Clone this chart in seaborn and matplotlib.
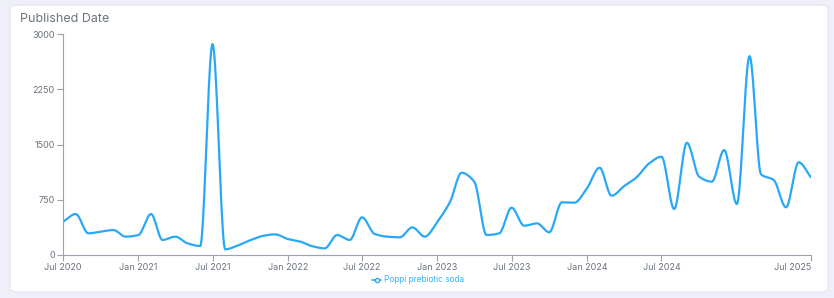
import numpy as np
import pandas as pd
import matplotlib
matplotlib.use("Agg")
import matplotlib.pyplot as plt
import seaborn as sns
from matplotlib.patches import FancyBboxPatch
from matplotlib.lines import Line2D
import matplotlib.dates as mdates

# ---- data (monthly, Jul 2020 .. Jul 2025) ----
start_month = "2020-07-01"
n_months = 61
values = [452, 556, 294, 317, 339, 249, 271, 556, 204, 249, 158, 122,
          2863, 77, 130, 200, 260, 280, 217, 181, 120, 90, 271, 204,
          511, 285, 249, 240, 375, 249, 452, 724, 1117, 995, 271, 294,
          642, 398, 430, 308, 715, 710, 905, 1185, 805, 936, 1054, 1244,
          1334, 624, 1524, 1063, 995, 1425, 692, 2700, 1095, 1018, 647, 1258,
          1054]
series_name = "Poppi prebiotic soda"
title = "Published Date"
y_ticks = [0, 750, 1500, 2250, 3000]
x_tick_dates = ["2020-07-01", "2021-01-01", "2021-07-01", "2022-01-01", "2022-07-01",
                "2023-01-01", "2023-07-01", "2024-01-01", "2024-07-01", "2025-07-01"]
x_tick_labels = ["Jul 2020", "Jan 2021", "Jul 2021", "Jan 2022", "Jul 2022",
                 "Jan 2023", "Jul 2023", "Jan 2024", "Jul 2024", "Jul 2025"]

dates = pd.date_range(start_month, periods=n_months, freq="MS")


def monotone_curve(x, y, per=20):
    """Monotone cubic (Fritsch-Carlson) rendering of the line, like d3.curveMonotoneX."""
    x = np.asarray(x, float); y = np.asarray(y, float)
    h = np.diff(x); d = np.diff(y) / h
    m = np.zeros_like(y)
    m[0] = d[0]; m[-1] = d[-1]
    for i in range(1, len(y) - 1):
        if d[i - 1] * d[i] <= 0:
            m[i] = 0
        else:
            w1 = 2 * h[i] + h[i - 1]; w2 = h[i] + 2 * h[i - 1]
            m[i] = (w1 + w2) / (w1 / d[i - 1] + w2 / d[i])
    xs, ys = [], []
    for i in range(len(x) - 1):
        t = np.linspace(0, 1, per, endpoint=False)
        h00 = 2 * t**3 - 3 * t**2 + 1; h10 = t**3 - 2 * t**2 + t
        h01 = -2 * t**3 + 3 * t**2; h11 = t**3 - t**2
        xs.append(x[i] + t * h[i])
        ys.append(h00 * y[i] + h10 * h[i] * m[i] + h01 * y[i + 1] + h11 * h[i] * m[i + 1])
    xs.append([x[-1]]); ys.append([y[-1]])
    return np.concatenate(xs), np.concatenate(ys)


xnum = mdates.date2num(dates)
cx, cy = monotone_curve(xnum, values)
curve = pd.DataFrame({"x": cx, "value": cy})

sns.set_theme(style="white")
plt.rcParams["font.family"] = ["Inter", "DejaVu Sans"]

W, H = 834, 298
fig = plt.figure(figsize=(W / 100, H / 100), dpi=100, facecolor="#eeeff9")
card = FancyBboxPatch((10 / W, 6 / H), 818 / W, 287 / H,
                      boxstyle="round,pad=0,rounding_size=0.012",
                      transform=fig.transFigure, facecolor="white",
                      edgecolor="#e3e5f1", linewidth=0.8, zorder=-5)
fig.patches.append(card)
fig.text(20 / W, 1 - 18.5 / H, title, fontsize=9, color="#6b7280", va="center", ha="left")

ax = fig.add_axes([63 / W, 1 - 255 / H, (811 - 63) / W, (255 - 34) / H])
ax.set_zorder(2)
ax.set_facecolor("none")
line_color = "#2aa8f8"
sns.lineplot(data=curve, x="x", y="value", ax=ax, color=line_color, linewidth=1.6)

ax.set_xlim(xnum[0], xnum[-1])
ax.set_ylim(0, 3000)
ax.set_yticks(y_ticks)
ax.set_yticklabels([str(v) for v in y_ticks])
ax.set_xticks(mdates.date2num(pd.to_datetime(x_tick_dates)))
ax.set_xticklabels(x_tick_labels)
ax.get_xticklabels()[-1].set_horizontalalignment("right")
ax.set_xlabel(""); ax.set_ylabel("")
for s in ["top", "right"]:
    ax.spines[s].set_visible(False)
for s in ["left", "bottom"]:
    ax.spines[s].set_color("#9ca3af")
    ax.spines[s].set_linewidth(0.8)
ax.tick_params(axis="both", which="both", length=4, width=0.8, color="#9ca3af",
               labelsize=6.5, labelcolor="#6b7280", pad=2, left=True, bottom=True)

handle = Line2D([0], [0], color=line_color, linewidth=1.2, marker="o",
                markersize=3, markerfacecolor="white", markeredgecolor=line_color)
leg = fig.legend([handle], [series_name], loc="center", bbox_to_anchor=(418 / W, 1 - 280 / H),
                 frameon=False, fontsize=6, handlelength=1.1, handletextpad=0.3)
for t in leg.get_texts():
    t.set_color("#38b0f8")

fig.savefig("out.png", dpi=100, facecolor=fig.get_facecolor())
